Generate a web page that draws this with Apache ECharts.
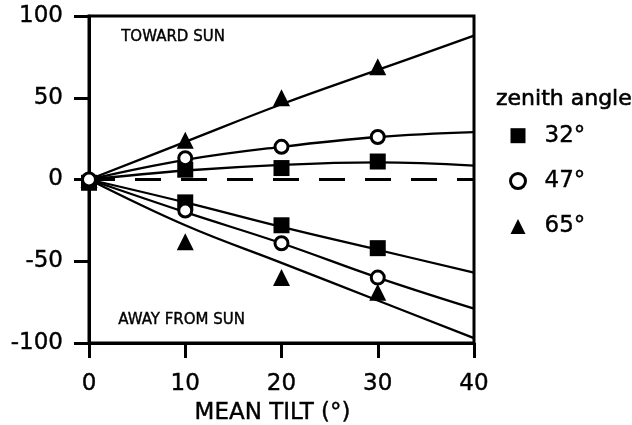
<!DOCTYPE html>
<html>
<head>
<meta charset="utf-8">
<script src="https://cdn.jsdelivr.net/npm/echarts@6/dist/echarts.min.js"></script>
<style>html,body{margin:0;padding:0;background:#fff;}#c{width:632px;height:425px;}</style>
</head>
<body>
<div id="c"></div>
<script>
// Tick labels
const xTicks = [0, 10, 20, 30, 40];
const yTicks = [-100, -50, 0, 50, 100];
const seriesNames = ['32°', '47°', '65°'];
const legendTitle = 'zenith angle';
const xName = 'MEAN TILT (°)';
const noteToward = 'TOWARD SUN';
const noteAway = 'AWAY FROM SUN';

// Measured points [tilt, value]
const pts32 = [[0, -2], [10, 6], [20, 7], [30, 11], [10, -14], [20, -28], [30, -42]];
const pts47 = [[0, 0], [10, 13], [20, 20], [30, 26], [10, -19], [20, -39], [30, -60]];
const pts65 = [[0, 0], [10, 24], [20, 50], [30, 69], [10, -38], [20, -60], [30, -69]];

// Fitted curves
const fitToward32 = [[0, 0], [10, 5.5], [20, 9], [30, 10.5], [40, 8.5]];
const fitToward47 = [[0, 0], [10, 12], [20, 20], [30, 26], [40, 29]];
const fitToward65 = [[0, 0], [10, 23], [20, 46], [30, 67], [40, 88]];
const fitAway32 = [[0, 0], [10, -14], [20, -29], [30, -43], [40, -57]];
const fitAway47 = [[0, 0], [10, -20], [20, -39], [30, -60], [40, -79]];
const fitAway65 = [[0, 0], [10, -28], [20, -51], [30, -74], [40, -97]];
const zeroLine = [[0, 0], [40, 0]];

const font = 'DejaVu Sans';
const chart = echarts.init(document.getElementById('c'));

function fit(data) {
  return {
    type: 'line', data: data, smooth: 0.4, showSymbol: false, symbol: 'none',
    lineStyle: { color: '#000', width: 2.3 }, z: 2, silent: true, legendHoverLink: false
  };
}

const labelStyle = { fontFamily: font, fontSize: 23, color: '#000', textBorderColor: '#000', textBorderWidth: 0.4 };

chart.setOption({
  animation: false,
  backgroundColor: '#fff',
  grid: {
    left: 89, right: 158, top: 16, bottom: 82, containLabel: false, outerBoundsMode: 'none',
    show: true, borderColor: '#000', borderWidth: 3, backgroundColor: 'transparent'
  },
  title: {
    text: legendTitle, left: 491, top: 83,
    textStyle: { fontFamily: font, fontSize: 22, fontWeight: 'normal', color: '#000', textBorderColor: '#000', textBorderWidth: 0.6 }
  },
  legend: {
    orient: 'vertical', left: 504, top: 119, itemGap: 22,
    itemWidth: 15, itemHeight: 15,
    selectedMode: false,
    textStyle: Object.assign({}, labelStyle, { padding: [0, 0, 0, 14] }),
    data: [
      { name: seriesNames[0], icon: 'rect', itemStyle: { color: '#000' } },
      { name: seriesNames[1], icon: 'circle', itemStyle: { color: '#fff', borderColor: '#000', borderWidth: 3 } },
      { name: seriesNames[2], icon: 'triangle', itemStyle: { color: '#000' } }
    ]
  },
  xAxis: {
    type: 'value', min: xTicks[0], max: xTicks[xTicks.length - 1], interval: 10,
    name: xName, nameLocation: 'middle', nameGap: 50,
    nameTextStyle: Object.assign({}, labelStyle, { padding: [0, 18, 0, 0] }),
    axisLine: { onZero: false, lineStyle: { color: '#000', width: 3 } },
    axisTick: { length: 15, lineStyle: { color: '#000', width: 3 } },
    axisLabel: Object.assign({}, labelStyle, { margin: 30 }),
    splitLine: { show: false }
  },
  yAxis: {
    type: 'value', min: yTicks[0], max: yTicks[yTicks.length - 1], interval: 50,
    axisLine: { onZero: false, lineStyle: { color: '#000', width: 3 } },
    axisTick: { length: 15, lineStyle: { color: '#000', width: 3 } },
    axisLabel: Object.assign({}, labelStyle, { margin: 26 }),
    splitLine: { show: false }
  },
  graphic: [
    { type: 'text', left: 121, top: 29, style: { text: noteToward, font: '15px "DejaVu Sans"', fill: '#000', stroke: '#000', lineWidth: 0.4 } },
    { type: 'text', left: 118, top: 312, style: { text: noteAway, font: '15px "DejaVu Sans"', fill: '#000', stroke: '#000', lineWidth: 0.4 } }
  ],
  series: [
    {
      type: 'line', data: zeroLine, showSymbol: false, symbol: 'none', silent: true,
      lineStyle: { color: '#000', width: 2.8, type: [26, 20] }, z: 1
    },
    fit(fitToward32), fit(fitToward47), fit(fitToward65),
    fit(fitAway32), fit(fitAway47), fit(fitAway65),
    {
      name: seriesNames[0], type: 'scatter', data: pts32, symbol: 'rect', symbolSize: 16,
      itemStyle: { color: '#000', opacity: 1 }, z: 5
    },
    {
      name: seriesNames[1], type: 'scatter', data: pts47, symbol: 'circle', symbolSize: 13,
      itemStyle: { color: '#fff', borderColor: '#000', borderWidth: 3, opacity: 1 }, z: 6
    },
    {
      name: seriesNames[2], type: 'scatter', data: pts65, symbol: 'triangle', symbolSize: 17,
      itemStyle: { color: '#000', opacity: 1 }, z: 5
    }
  ]
});
</script>
</body>
</html>
